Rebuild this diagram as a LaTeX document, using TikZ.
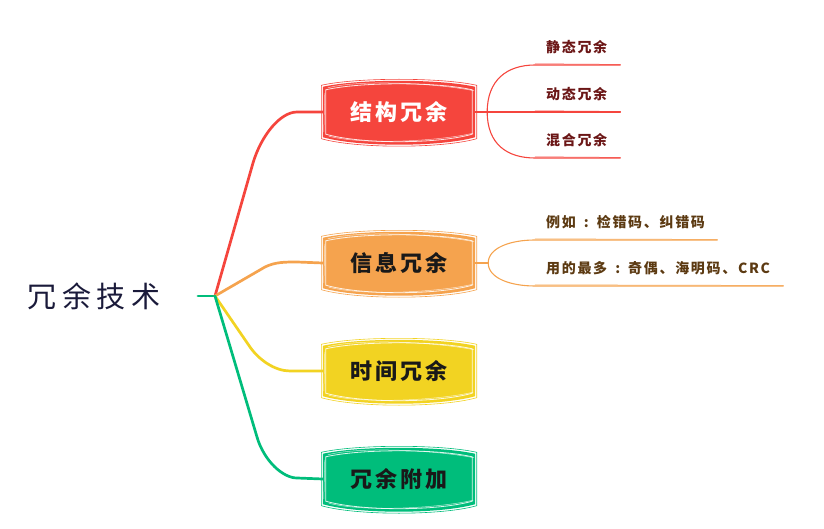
\documentclass[tikz,border=0pt]{standalone}
\usepackage{fontspec}
\newfontfamily\cjkroot{Noto Sans CJK SC}[LetterSpace=20]
\newfontfamily\cjkbox{Noto Sans CJK SC}[LetterSpace=14]
\newfontfamily\cjkleaf{Noto Sans CJK SC}[LetterSpace=12]
\usetikzlibrary{calc,backgrounds}
\definecolor{cred}{HTML}{F5453D}
\definecolor{corange}{HTML}{F5A34E}
\definecolor{cyellow}{HTML}{F2D322}
\definecolor{cgreen}{HTML}{00BD7B}
\definecolor{credtext}{HTML}{6B1616}
\definecolor{corangetext}{HTML}{5C3A12}
\definecolor{croot}{HTML}{1A1A3A}
\newcommand\midcolon{\makebox[21pt][c]{:}}
\tikzset{
  box/.style={minimum width=152pt, minimum height=50pt, inner sep=0pt,
    font=\cjkbox\fontsize{22}{26}\selectfont\bfseries},
  leaf/.style={anchor=south west, minimum height=36pt, inner xsep=11pt, inner ysep=0pt,
    font=\cjkleaf\fontsize{14}{16}\selectfont\bfseries},
  trunk/.style={line width=2.7pt, line cap=round, line join=round},
  twig/.style={line width=1.1pt, line cap=round},
  twigthin/.style={line width=0.5pt, line cap=round},
}
\newcommand\sketchbox[2]{%
  \begin{scope}[on background layer]
    \fill[#2] (#1.north west) .. controls +(35,-8) and +(-35,-8) .. (#1.north east)
      -- (#1.south east) .. controls +(-35,10) and +(35,10) .. (#1.south west) -- cycle;
    \draw[#2, line width=0.6pt] ($(#1.north west)+(-1.5,-1.5)$) .. controls +(35,-8) and +(-35,-8) .. ($(#1.north east)+(1.5,-1.5)$)
      -- ($(#1.south east)+(1.5,1.5)$) .. controls +(-35,10) and +(35,10) .. ($(#1.south west)+(-1.5,1.5)$) -- cycle;
    \draw[white, line width=0.8pt, opacity=0.85] ($(#1.north west)+(3,3)$) .. controls +(35,-8) and +(-35,-8) .. ($(#1.north east)+(-3,3)$)
      -- ($(#1.south east)+(-3,-3)$) .. controls +(-35,10) and +(35,10) .. ($(#1.south west)+(3,-3)$) -- cycle;
    \draw[white, line width=0.5pt, opacity=0.7] ($(#1.north west)+(5,1)$) .. controls +(35,-9) and +(-35,-7) .. ($(#1.north east)+(-1,4)$);
    \draw[white, line width=0.5pt, opacity=0.7] ($(#1.south west)+(1,-5)$) -- ($(#1.north west)+(2,6)$);
    \draw[white, line width=0.5pt, opacity=0.7] ($(#1.south west)+(6,-1)$) .. controls +(35,9) and +(-35,8) .. ($(#1.south east)+(-2,-4)$);
  \end{scope}}
\begin{document}
\begin{tikzpicture}[x=1pt, y=-1pt]
  \useasboundingbox (0,0) rectangle (824,529);

  % root
  \node[font=\cjkroot\fontsize{29}{32}\selectfont, text=croot] (root) at (94,296) {冗余技术};
  \coordinate (r0) at (198,296);
  \coordinate (j) at (215,296);

  % main boxes
  \node[box, text=white] (b1) at (399,112) {结构冗余};
  \node[box, text=black!90] (b2) at (399,263) {信息冗余};
  \node[box, text=black!90] (b3) at (399,371) {时间冗余};
  \node[box, text=black!90] (b4) at (399,479) {冗余附加};
  \sketchbox{b1}{cred}
  \sketchbox{b2}{corange}
  \sketchbox{b3}{cyellow}
  \sketchbox{b4}{cgreen}

  % trunks
  \draw[trunk, cgreen] (r0) -- (j);
  \draw[trunk, cred] (j) -- (253,163) .. controls (261,136) and (280,112) .. (297,112) -- (b1.west);
  \draw[trunk, corange] (j) -- (265,267) .. controls (275,262) and (285,262) .. (297,262) -- (b2.west);
  \draw[trunk, cyellow] (j) -- (250,347) .. controls (259,360) and (275,371) .. (290,371) -- (b3.west);
  \draw[trunk, cgreen] (j) -- (257,437) .. controls (264,461) and (283,478) .. (297,478) -- (b4.west);

  % structure leaves
  \node[leaf, text=credtext] (s1) at (535,65) {\makebox[63pt][l]{静态冗余}};
  \node[leaf, text=credtext] (s2) at (535,112) {\makebox[63pt][l]{动态冗余}};
  \node[leaf, text=credtext] (s3) at (535,158) {\makebox[63pt][l]{混合冗余}};
  \draw[twig, cred] (b1.east) -- ++(12,0) coordinate (k1);
  \draw[twig, cred] (k1) .. controls +(0,-32) and +(-28,0) .. (s1.south west) -- (s1.south east);
  \draw[twig, cred] (k1) -- (s2.south west) -- (s2.south east);
  \draw[twig, cred] (k1) .. controls +(0,32) and +(-28,0) .. (s3.south west) -- (s3.south east);
  \draw[twigthin, cred] ([yshift=1.2pt]s1.south west) -- ([yshift=0.6pt]s1.south east);
  \draw[twigthin, cred] ([yshift=1.2pt]s2.south west) -- ([yshift=0.6pt]s2.south east);
  \draw[twigthin, cred] ([yshift=1.2pt]s3.south west) -- ([yshift=0.6pt]s3.south east);

  % information leaves
  \node[leaf, text=corangetext] (i1) at (535,240) {\makebox[160pt][l]{例如\midcolon 检错码、纠错码}};
  \node[leaf, text=corangetext] (i2) at (535,286) {\makebox[226pt][l]{用的最多\midcolon 奇偶、海明码、CRC}};
  \draw[twig, corange] (b2.east) -- ++(13,0) coordinate (k2);
  \draw[twig, corange] (k2) .. controls +(0,-15) and +(-25,0) .. (i1.south west) -- (i1.south east);
  \draw[twig, corange] (k2) .. controls +(0,15) and +(-25,0) .. (i2.south west) -- (i2.south east);
  \draw[twigthin, corange] ([yshift=1.2pt]i1.south west) -- ([yshift=0.6pt]i1.south east);
  \draw[twigthin, corange] ([yshift=1.2pt]i2.south west) -- ([yshift=0.6pt]i2.south east);
\end{tikzpicture}
\end{document}
